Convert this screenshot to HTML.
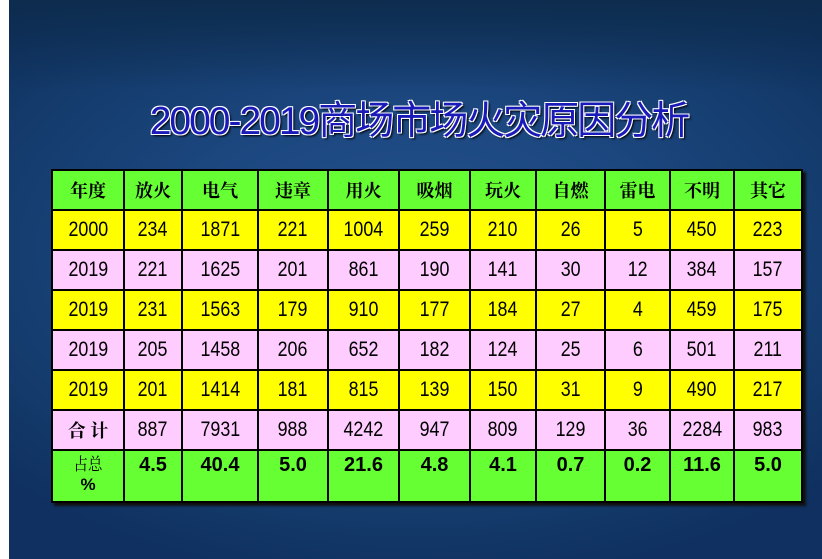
<!DOCTYPE html>
<html><head><meta charset="utf-8"><style>
body{margin:0;width:822px;height:559px;overflow:hidden;background:#fff;position:relative;font-family:"Liberation Sans","Noto Sans CJK SC",sans-serif}
.bg{position:absolute;left:9px;top:0;width:813px;height:559px;background:radial-gradient(ellipse 70% 60% at 50% 45%,#265390 0%,#1b467e 45%,#133a6a 80%,#0f3060 100%)}
.bg:before{content:"";position:absolute;left:0;top:0;right:0;height:90px;background:linear-gradient(#0d2c4e,rgba(13,44,78,0))}
.title{position:absolute;left:0;width:838px;top:90px;text-align:center;font-size:39px;color:#1a1ab8;letter-spacing:-2px;
text-shadow:1px 1px 0 #fff,-1px -1px 0 #fff,1px -1px 0 #fff,-1px 1px 0 #fff,2px 2px 2px #000;font-family:"Liberation Sans","Noto Sans CJK SC",sans-serif}
table{position:absolute;left:51px;top:169px;border-collapse:collapse;box-shadow:3px 3px 2px #111}
td{border:2px solid #000;text-align:center;font-size:21px;padding:0;color:#000}
td span{display:inline-block;transform:scaleX(0.85)}
tr{height:40px}
.g td{background:#66ff33}
.y td{background:#ffff00}
.p td{background:#ffccff}
.h td{font-weight:bold;font-family:"Noto Serif CJK SC","Liberation Serif",serif;font-size:18px}
.last td{vertical-align:top;font-weight:bold;padding-top:3px;font-size:20px}
</style></head><body>
<div class="bg"></div>
<div class="title">2000-2019商场市场火灾原因分析</div>
<table>
<colgroup><col style="width:72px"><col style="width:58px"><col style="width:76px"><col style="width:70px"><col style="width:71px"><col style="width:71px"><col style="width:66px"><col style="width:69px"><col style="width:65px"><col style="width:64px"><col style="width:68px"></colgroup>
<tr class="g h"><td>年度</td><td>放火</td><td>电气</td><td>违章</td><td>用火</td><td>吸烟</td><td>玩火</td><td>自燃</td><td>雷电</td><td>不明</td><td>其它</td></tr>
<tr class="y"><td><span>2000</span></td><td><span>234</span></td><td><span>1871</span></td><td><span>221</span></td><td><span>1004</span></td><td><span>259</span></td><td><span>210</span></td><td><span>26</span></td><td><span>5</span></td><td><span>450</span></td><td><span>223</span></td></tr>
<tr class="p"><td><span>2019</span></td><td><span>221</span></td><td><span>1625</span></td><td><span>201</span></td><td><span>861</span></td><td><span>190</span></td><td><span>141</span></td><td><span>30</span></td><td><span>12</span></td><td><span>384</span></td><td><span>157</span></td></tr>
<tr class="y"><td><span>2019</span></td><td><span>231</span></td><td><span>1563</span></td><td><span>179</span></td><td><span>910</span></td><td><span>177</span></td><td><span>184</span></td><td><span>27</span></td><td><span>4</span></td><td><span>459</span></td><td><span>175</span></td></tr>
<tr class="p"><td><span>2019</span></td><td><span>205</span></td><td><span>1458</span></td><td><span>206</span></td><td><span>652</span></td><td><span>182</span></td><td><span>124</span></td><td><span>25</span></td><td><span>6</span></td><td><span>501</span></td><td><span>211</span></td></tr>
<tr class="y"><td><span>2019</span></td><td><span>201</span></td><td><span>1414</span></td><td><span>181</span></td><td><span>815</span></td><td><span>139</span></td><td><span>150</span></td><td><span>31</span></td><td><span>9</span></td><td><span>490</span></td><td><span>217</span></td></tr>
<tr class="p"><td style="font-weight:bold;font-family:'Noto Serif CJK SC',serif;font-size:18px">合 计</td><td><span>887</span></td><td><span>7931</span></td><td><span>988</span></td><td><span>4242</span></td><td><span>947</span></td><td><span>809</span></td><td><span>129</span></td><td><span>36</span></td><td><span>2284</span></td><td><span>983</span></td></tr>
<tr class="g last" style="height:52px"><td style="font-size:17px;line-height:20px;padding-top:2px"><span style="font-family:'Noto Serif CJK SC',serif;font-weight:normal">占总</span><br>%</td><td>4.5</td><td>40.4</td><td>5.0</td><td>21.6</td><td>4.8</td><td>4.1</td><td>0.7</td><td>0.2</td><td>11.6</td><td>5.0</td></tr>
</table>
</body></html>
